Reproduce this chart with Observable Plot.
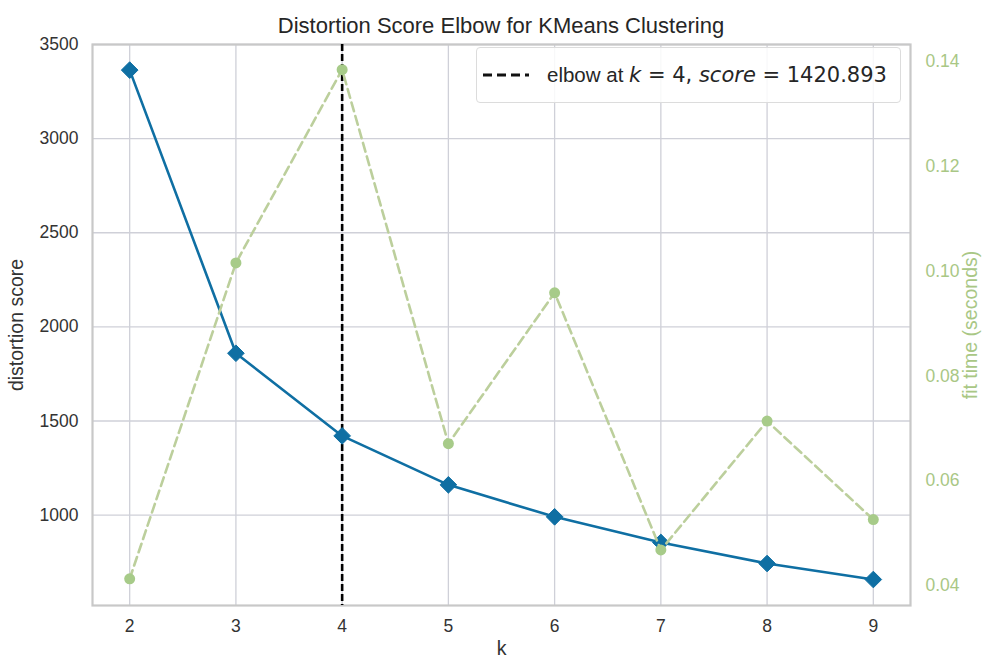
<!DOCTYPE html>
<html>
<head>
<meta charset="utf-8">
<script src="https://cdn.jsdelivr.net/npm/d3@7"></script>
<script src="https://cdn.jsdelivr.net/npm/@observablehq/plot@0.6"></script>
<style>
  html, body { margin: 0; padding: 0; background: #fff; }
  #wrap { position: relative; width: 984px; height: 657px; overflow: hidden; font-family: "Liberation Sans", Arial, sans-serif; }
  #title { position: absolute; left: 92px; width: 818px; top: 12px; text-align: center; font-size: 22px; color: #262626; line-height: 28px; z-index: 3; }
  .layer { position: absolute; left: 0; top: 0; }
  #legend { position: absolute; left: 476px; top: 47px; width: 425px; height: 56px; box-sizing: border-box;
            border: 1px solid #dcdcdc; border-radius: 4px; background: rgba(255,255,255,0.85);
            display: flex; align-items: center; font-size: 20.5px; color: #262626; z-index: 3; }
  #legend svg { margin-left: 6px; margin-right: 18px; }
  #legend .math { font-family: "DejaVu Sans", sans-serif; font-size: 21px; }
  g[aria-label="y-axis label"] text, g[aria-label="x-axis label"] text { font-size: 19.5px; }
</style>
</head>
<body>
<div id="wrap">
  <div id="title"></div>
</div>
<script>
const kValues = [2, 3, 4, 5, 6, 7, 8, 9];
const distortion = [3364, 1860, 1420.893, 1161, 991, 855, 743, 658];
const fitTime = [0.0413, 0.1016, 0.1385, 0.0671, 0.0959, 0.0468, 0.0714, 0.0526];
const elbowK = 4;
const elbowScore = 1420.893;
const distTicks = [1000, 1500, 2000, 2500, 3000, 3500];
const timeTicks = [0.04, 0.06, 0.08, 0.10, 0.12, 0.14];
const titleText = "Distortion Score Elbow for KMeans Clustering";

const rows = kValues.map((k, i) => ({k, d: distortion[i], t: fitTime[i]}));

const W = 984, H = 657;
const M = {marginTop: 44, marginBottom: 52, marginLeft: 92, marginRight: 74};
const xDomain = [1.65, 9.35];
const blue = "#0f6fa3";
const greenLine = "#bccf9c";
const greenDot = "#a7cb89";
const greenText = "#a9c785";

document.getElementById("title").textContent = titleText;

const p1 = Plot.plot({
  width: W, height: H, ...M,
  style: {fontFamily: "Liberation Sans, Arial, sans-serif", fontSize: "17.5px", color: "#333", background: "transparent"},
  x: {domain: xDomain},
  y: {domain: [520, 3500]},
  marks: [
    Plot.gridX(kValues, {stroke: "#cfd0d8", strokeOpacity: 1, strokeWidth: 1.3}),
    Plot.gridY(distTicks, {stroke: "#cfd0d8", strokeOpacity: 1, strokeWidth: 1.3}),
    Plot.frame({stroke: "#c8c8c8", strokeWidth: 2.2}),
    Plot.axisX(kValues, {tickSize: 0, tickPadding: 14, tickFormat: d => String(d), label: "k", labelAnchor: "center", labelArrow: "none", labelOffset: 49, fill: "#333"}),
    Plot.axisY(distTicks, {tickSize: 0, tickPadding: 14, tickFormat: d => String(d), label: "distortion score", labelAnchor: "center", labelArrow: "none", labelOffset: 83, fill: "#333"}),
    Plot.ruleX([elbowK], {stroke: "#000", strokeWidth: 2.6, strokeDasharray: "7,3"}),
    Plot.line(rows, {x: "k", y: "d", stroke: blue, strokeWidth: 2.6}),
    Plot.dot(rows, {x: "k", y: "d", symbol: "diamond2", r: 7.5, fill: blue, stroke: blue, strokeWidth: 1})
  ]
});
p1.classList.add("layer");

const p2 = Plot.plot({
  width: W, height: H, ...M,
  style: {fontFamily: "Liberation Sans, Arial, sans-serif", fontSize: "17.5px", background: "transparent"},
  x: {domain: xDomain, axis: null},
  y: {domain: [0.0362, 0.1433], axis: null},
  marks: [
    Plot.axisY(timeTicks, {anchor: "right", tickSize: 0, tickPadding: 15, tickFormat: d3.format(".2f"), label: "fit time (seconds)", labelAnchor: "center", labelArrow: "none", labelOffset: 66, fill: greenText, color: greenText}),
    Plot.line(rows, {x: "k", y: "t", stroke: greenLine, strokeWidth: 2.6, strokeDasharray: "9,5"}),
    Plot.dot(rows, {x: "k", y: "t", r: 5.5, fill: greenDot, stroke: "none"})
  ]
});
p2.classList.add("layer");

const wrap = document.getElementById("wrap");
wrap.appendChild(p1);
wrap.appendChild(p2);

const legend = document.createElement("div");
legend.id = "legend";
legend.innerHTML = `<svg width="46" height="10"><line x1="0" y1="5" x2="46" y2="5" stroke="#111" stroke-width="3" stroke-dasharray="9,5"/></svg>` +
  `<span>elbow at&nbsp;</span><span class="math"><i>k</i> = ${elbowK}, <i>score</i> = ${elbowScore.toFixed(3)}</span>`;
wrap.appendChild(legend);
</script>
</body>
</html>
